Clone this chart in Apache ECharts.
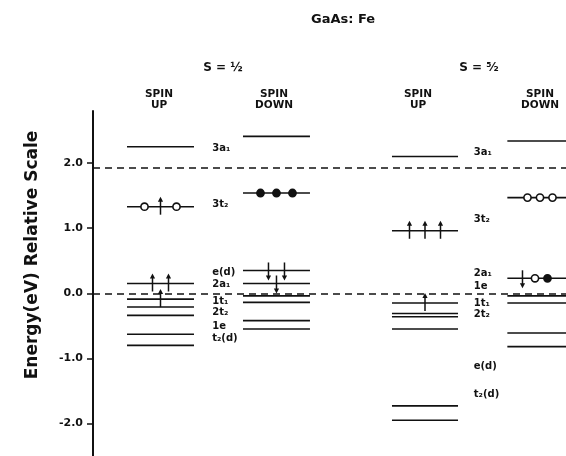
<!DOCTYPE html>
<html>
<head>
<meta charset="utf-8">
<script src="https://cdn.jsdelivr.net/npm/echarts@6/dist/echarts.min.js"></script>
<style>html,body{margin:0;padding:0;background:#fff}#c{width:566px;height:456px}</style>
</head>
<body>
<div id="c"></div>
<script>
// ---------------- data ----------------
const yTicks = [-2, -1, 0, 1, 2];
const columnNames = ['S=1/2 spin up', 'S=1/2 spin down', 'S=5/2 spin up', 'S=5/2 spin down'];
const levelsHalfUp   = [2.25, 1.33, 0.15, -0.09, -0.21, -0.34, -0.63, -0.80];
const levelsHalfDown = [2.41, 1.54, 0.35, 0.15, -0.04, -0.14, -0.42, -0.55];
const levelsFiveUp   = [2.10, 0.96, -0.15, -0.31, -0.36, -0.55, -1.73, -1.95];
const levelsFiveDown = [2.34, 1.47, 0.23, -0.04, -0.15, -0.61, -0.82];
const referenceLines = [0, 1.93];
const labelsHalf   = ['3a₁', '3t₂', 'e(d)', '2a₁', '1t₁', '2t₂', '1e', 't₂(d)'];
const labelsHalfE  = [2.23, 1.36, 0.32, 0.13, -0.13, -0.30, -0.51, -0.70];
const labelsFive   = ['3a₁', '3t₂', '2a₁', '1e', '1t₁', '2t₂', 'e(d)', 't₂(d)'];
const labelsFiveE  = [2.16, 1.13, 0.31, 0.10, -0.15, -0.33, -1.13, -1.55];
// electrons / holes: [column, energy, kind, slot]
const markerCols   = [0, 0, 0, 0, 0, 0, 1, 1, 1, 1, 1, 1, 2, 2, 2, 2, 3, 3, 3, 3, 3, 3];
const markerE      = [1.33, 1.33, 1.33, 0.15, 0.15, -0.09, 1.54, 1.54, 1.54, 0.35, 0.35, 0.15, 0.96, 0.96, 0.96, -0.15, 1.47, 1.47, 1.47, 0.23, 0.23, 0.23];
const markerKind   = ['open', 'up', 'open', 'up', 'up', 'up', 'filled', 'filled', 'filled', 'down', 'down', 'down', 'up', 'up', 'up', 'up', 'open', 'open', 'open', 'down', 'open', 'filled'];
const markerSlot   = [-1, 0, 1, -0.5, 0.5, 0, -1, 0, 1, -0.5, 0.5, 0, -1, 0, 1, 0, -1, 0, 1, -1.4, -0.4, 0.6];
const titleText = 'GaAs: Fe';
const yAxisTitle = 'Energy(eV) Relative Scale';

// ---------------- layout (axis units, x-axis 0..100) ----------------
const colCenter = [14.27, 38.79, 70.19, 94.5];
const colHalf = [7.08, 7.08, 6.98, 6.9];
const slotStepPx = [16, 16, 15.5, 12.5];
const labelX = [25.2, 80.5];
const FONT = 'DejaVu Sans';

const levelData = [];
[levelsHalfUp, levelsHalfDown, levelsFiveUp, levelsFiveDown].forEach((arr, c) => {
  arr.forEach(e => levelData.push([c, e]));
});
const markerData = markerE.map((e, i) => [markerCols[i], e, markerSlot[i]]);
const labelData = [];
labelsHalf.forEach((t, i) => labelData.push({ value: [labelX[0], labelsHalfE[i]], name: t }));
labelsFive.forEach((t, i) => labelData.push({ value: [labelX[1], labelsFiveE[i]], name: t }));

const hdr = (x, text) => ({ type: 'text', x: x, y: 100, style: { text: text, font: 'bold 10.5px "DejaVu Sans"', lineHeight: 11, fill: '#111', align: 'center', verticalAlign: 'middle' } });

const chart = echarts.init(document.getElementById('c'), null, { renderer: 'canvas' });
chart.setOption({
  animation: false,
  backgroundColor: '#fff',
  grid: { left: 93, right: 0, top: 111, bottom: 0, containLabel: false },
  xAxis: { type: 'value', min: 0, max: 100, show: false },
  yAxis: {
    type: 'value', min: -2.5, max: 2.8,
    axisLine: { show: true, lineStyle: { color: '#111', width: 2 } },
    axisTick: { show: true, inside: false, length: 6, customValues: yTicks, lineStyle: { color: '#111', width: 1.5 } },
    axisLabel: { show: true, margin: 10, customValues: yTicks, fontFamily: FONT, fontWeight: 'bold', fontSize: 11, color: '#111',
      formatter: v => v.toFixed(1) },
    splitLine: { show: false }
  },
  graphic: [
    { type: 'text', x: 311, y: 20, style: { text: titleText, font: 'bold 13px "DejaVu Sans"', fill: '#111', align: 'left', verticalAlign: 'middle' } },
    { type: 'text', x: 32.5, y: 255, rotation: Math.PI / 2, style: { text: yAxisTitle, font: 'bold 17px "DejaVu Sans"', fill: '#111', align: 'center', verticalAlign: 'middle' } },
    { type: 'text', x: 223, y: 68, style: { text: 'S = ½', font: 'bold 12px "DejaVu Sans"', fill: '#111', align: 'center', verticalAlign: 'middle' } },
    { type: 'text', x: 479, y: 68, style: { text: 'S = ⁵⁄₂', font: 'bold 12px "DejaVu Sans"', fill: '#111', align: 'center', verticalAlign: 'middle' } },
    hdr(159, 'SPIN\nUP'), hdr(274, 'SPIN\nDOWN'), hdr(418, 'SPIN\nUP'), hdr(540, 'SPIN\nDOWN')
  ],
  series: [
    {
      type: 'custom', name: 'levels', data: levelData, clip: false,
      renderItem: (params, api) => {
        const c = api.value(0), e = api.value(1);
        const p1 = api.coord([colCenter[c] - colHalf[c], e]);
        const p2 = api.coord([colCenter[c] + colHalf[c], e]);
        return { type: 'line', shape: { x1: p1[0], y1: p1[1], x2: p2[0], y2: p2[1] },
          style: { stroke: '#111', lineWidth: 1.6 } };
      },
      markLine: {
        silent: true, symbol: 'none', label: { show: false },
        lineStyle: { color: '#111', type: [7, 5], width: 1.5 },
        data: referenceLines.map(v => ({ yAxis: v }))
      }
    },
    {
      type: 'custom', name: 'markers', data: markerData, clip: false,
      renderItem: (params, api) => {
        const c = api.value(0), e = api.value(1), s = api.value(2);
        const kind = markerKind[params.dataIndex];
        const p = api.coord([colCenter[c], e]);
        const x = p[0] + s * slotStepPx[c], y = p[1];
        if (kind === 'open' || kind === 'filled') {
          return { type: 'circle', shape: { cx: x, cy: y, r: 3.6 },
            style: { fill: kind === 'open' ? '#fff' : '#111', stroke: '#111', lineWidth: 1.6 } };
        }
        const d = kind === 'up' ? -1 : 1;
        return { type: 'group', children: [
          { type: 'line', shape: { x1: x, y1: y - d * 8, x2: x, y2: y + d * 6 }, style: { stroke: '#111', lineWidth: 1.5 } },
          { type: 'polygon', shape: { points: [[x - 2.6, y + d * 5], [x + 2.6, y + d * 5], [x, y + d * 10]] }, style: { fill: '#111' } }
        ] };
      }
    },
    {
      type: 'custom', name: 'labels', data: labelData, clip: false,
      renderItem: (params, api) => {
        const p = api.coord([api.value(0), api.value(1)]);
        return { type: 'text', x: p[0], y: p[1],
          style: { text: labelData[params.dataIndex].name, font: 'bold 10px "DejaVu Sans"', fill: '#111', align: 'left', verticalAlign: 'middle' } };
      }
    }
  ]
});
</script>
</body>
</html>
